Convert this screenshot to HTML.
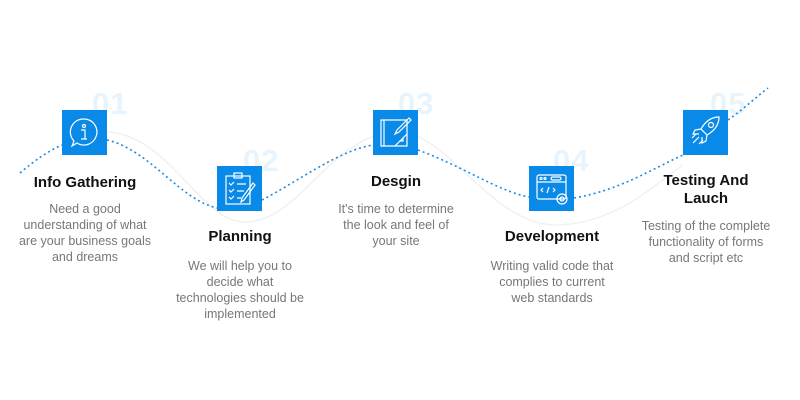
<!DOCTYPE html>
<html><head><style>
body{margin:0;width:800px;height:400px;background:#fff;position:relative;overflow:hidden;font-family:"Liberation Sans",sans-serif}
.n{position:absolute;font-size:31px;font-weight:bold;color:#e8f4fd;letter-spacing:1px}
.b{position:absolute;width:45px;height:45px;background:#0a8ae8}
.b svg{width:45px;height:45px}
.t{position:absolute;width:180px;text-align:center;font-weight:bold;font-size:15px;color:#111;line-height:18px}
.d{position:absolute;width:180px;text-align:center;font-size:12.5px;color:#777;line-height:16px}
</style></head><body>
<div class="n" style="left:92px;top:86px">01</div>
<div class="n" style="left:243px;top:143px">02</div>
<div class="n" style="left:398px;top:86px">03</div>
<div class="n" style="left:553px;top:143px">04</div>
<div class="n" style="left:710px;top:86px">05</div>
<svg style="position:absolute;left:0;top:0" width="800" height="400">
<path d="M107,132 C170,135 200,222 245,222 C300,222 330,135 395,132 C450,130 490,228 560,225 C620,222 660,180 683,165" fill="none" stroke="#f1f1f1" stroke-width="1.5"/>
<path d="M20,173 C35,160 50,150 62,145 M107,140 C150,150 180,200 217,208 M262,200 C300,180 340,150 373,145 M418,150 C460,165 500,192 529,197 M574,198 C620,190 650,170 683,155 M728,120 C745,108 755,98 768,88" fill="none" stroke="#1a8be6" stroke-width="1.6" stroke-dasharray="2,3"/>
</svg>
<div class="b" style="left:62px;top:110px"><svg viewBox="0 0 45 45" fill="none" stroke="#fff" stroke-width="1.2"><path d="M22 9a13 13 0 1 1-7 24l-5 3 2-5A13 13 0 0 1 22 9z"/><circle cx="22" cy="16" r="1.5"/><path d="M19 20h4v9h2M19 29h6"/></svg></div>
<div class="b" style="left:217px;top:166px"><svg viewBox="0 0 45 45" fill="none" stroke="#fff" stroke-width="1.2"><rect x="9" y="10" width="24" height="28"/><rect x="17" y="7" width="8" height="5"/><path d="M12 17l2 2 3-3M12 24l2 2 3-3M12 31l2 2 3-3M20 18h9M20 25h7M20 32h4M36 17l-11 15-1 4 3-2 11-15z"/></svg></div>
<div class="b" style="left:373px;top:110px"><svg viewBox="0 0 45 45" fill="none" stroke="#fff" stroke-width="1.2"><path d="M8 10h26v26H8zM8 10v26M11 10v26M34 24L22 36h12zM30 31h-3l3-3z"/><path d="M36 8l-12 12-2 4 4-2 12-12z"/></svg></div>
<div class="b" style="left:529px;top:166px"><svg viewBox="0 0 45 45" fill="none" stroke="#fff" stroke-width="1.2"><rect x="8" y="9" width="29" height="24" rx="2"/><path d="M8 16h29"/><circle cx="12" cy="12.5" r="1"/><circle cx="16" cy="12.5" r="1"/><rect x="22" y="11" width="10" height="3" rx="1.5"/><path d="M14 22l-2 2 2 2M20 21l-2 6M24 22l2 2-2 2"/><circle cx="33" cy="33" r="5"/><circle cx="33" cy="33" r="2"/></svg></div>
<div class="b" style="left:683px;top:110px"><svg viewBox="0 0 45 45" fill="none" stroke="#fff" stroke-width="1.2"><path d="M36 7c-8 0-14 5-18 12l6 6c7-4 12-10 12-18z"/><circle cx="28" cy="15" r="2.5"/><path d="M18 19l-6 1-2 4 6 0M24 25l-1 6-4 2 0-6M16 27l-6 6M13 24l-4 4M20 30l-4 4"/></svg></div>
<div class="t" style="left:-5px;top:174px">Info Gathering</div>
<div class="d" style="left:-5px;top:201px">Need a good<br>understanding of what<br>are your business goals<br>and dreams</div>
<div class="t" style="left:150px;top:228px">Planning</div>
<div class="d" style="left:150px;top:258px">We will help you to<br>decide what<br>technologies should be<br>implemented</div>
<div class="t" style="left:306px;top:173px">Desgin</div>
<div class="d" style="left:306px;top:201px">It's time to determine<br>the look and feel of<br>your site</div>
<div class="t" style="left:462px;top:228px">Development</div>
<div class="d" style="left:462px;top:258px">Writing valid code that<br>complies to current<br>web standards</div>
<div class="t" style="left:616px;top:172px">Testing And<br>Lauch</div>
<div class="d" style="left:616px;top:218px">Testing of the complete<br>functionality of forms<br>and script etc</div>
</body></html>
